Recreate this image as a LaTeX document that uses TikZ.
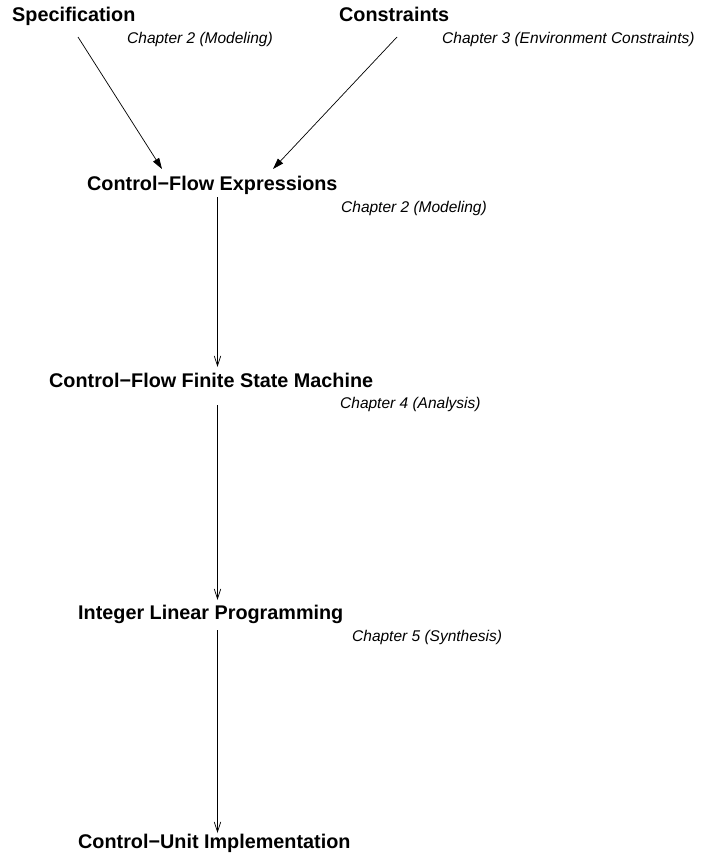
\documentclass[tikz,border=0pt]{standalone}
\usepackage{fontspec}
\setmainfont{Liberation Sans}
\usetikzlibrary{arrows.meta,calc}

\tikzset{
  stage/.style={anchor=base west, inner sep=0pt, font=\fontsize{19.8}{22}\selectfont\bfseries},
  chapter/.style={anchor=base west, inner sep=0pt, font=\fontsize{15.5}{18}\selectfont\itshape},
  merge/.style={draw=black, line width=0.7pt, -{Triangle[length=11pt,width=7pt]}},
  flow/.style={draw=black, line width=0.7pt, -{Straight Barb[length=10pt,width=6.5pt,line width=0.7pt]}}
}

\begin{document}
\begin{tikzpicture}[x=1pt,y=1pt]
  \useasboundingbox (0,0) rectangle (707,-862);

  % inputs
  \node[stage]   (spec)    at (12,-21)   {Specification};
  \node[chapter] (specch)  at (127,-43)  {Chapter 2 (Modeling)};
  \node[stage]   (constr)  at (339,-21)  {Constraints};
  \node[chapter] (constrch) at (442,-43) {Chapter 3 (Environment Constraints)};

  % design flow
  \node[stage]   (cfe)   at (87,-190)  {Control\char"2212 Flow Expressions};
  \node[chapter] (cfech) at (341,-212) {Chapter 2 (Modeling)};
  \node[stage]   (fsm)   at (49,-387)  {Control\char"2212 Flow Finite State Machine};
  \node[chapter] (fsmch) at (340,-408) {Chapter 4 (Analysis)};
  \node[stage]   (ilp)   at (78,-619)  {Integer Linear Programming};
  \node[chapter] (ilpch) at (352,-641) {Chapter 5 (Synthesis)};
  \node[stage]   (cui)   at (78,-848)  {Control\char"2212 Unit Implementation};

  \coordinate (xl) at (217.5,0);

  % converging arrows
  \draw[merge] ($(spec.base west)+(66,-16)$) -- ($(cfe.base west)+(75,21)$);
  \draw[merge] ($(constr.base west)+(58,-16)$) -- ($(cfe.base west)+(186,21)$);

  % vertical chain
  \draw[flow] ($(cfe.base -| xl)+(0,-7)$)  -- ($(fsm.base -| xl)+(0,20)$);
  \draw[flow] ($(fsm.base -| xl)+(0,-18)$) -- ($(ilp.base -| xl)+(0,19)$);
  \draw[flow] ($(ilp.base -| xl)+(0,-11)$) -- ($(cui.base -| xl)+(0,15)$);
\end{tikzpicture}
\end{document}
